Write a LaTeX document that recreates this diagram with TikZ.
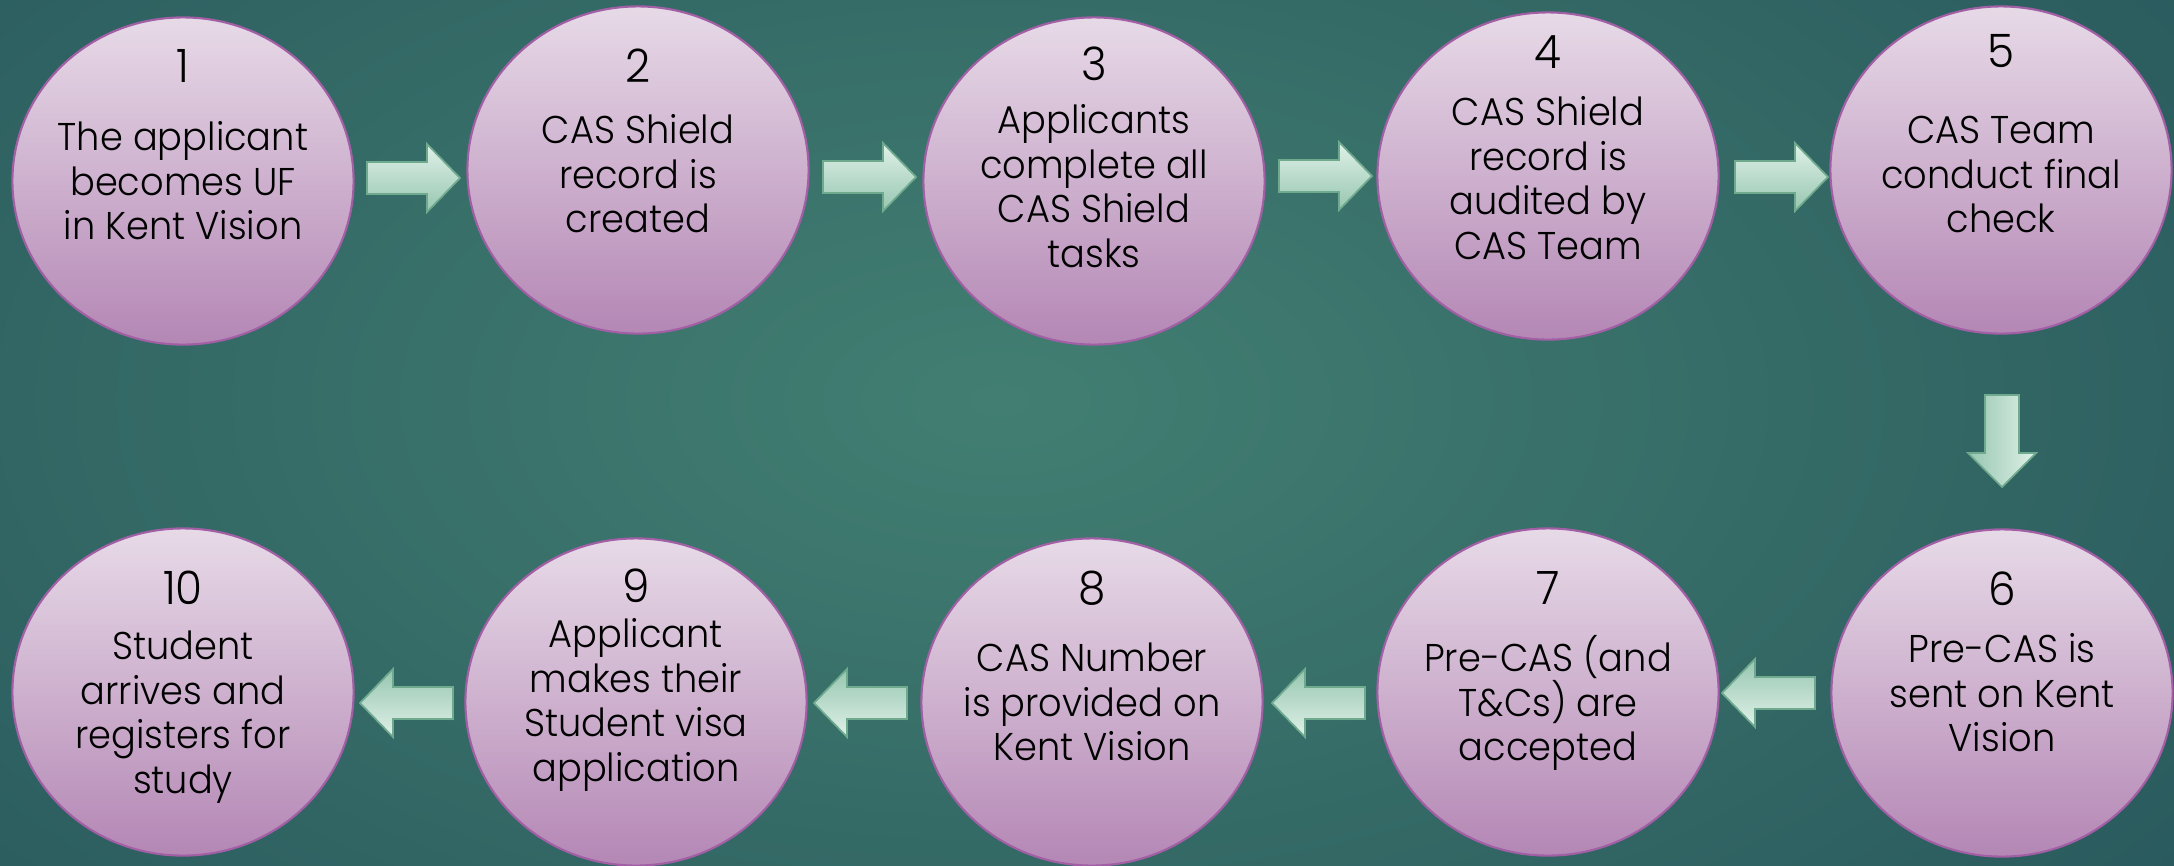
\documentclass[tikz,border=0pt]{standalone}
\usepackage{fontspec}
\IfFontExistsTF{Poppins Light}
  {\setmainfont{Poppins Light}[FakeStretch=0.95]}
  {\setmainfont{Poppins}[FakeStretch=0.95]}
\usetikzlibrary{shapes.geometric}
\definecolor{bgin}{RGB}{66,127,114}
\definecolor{bgout}{RGB}{26,66,80}
\definecolor{ctop}{RGB}{231,218,231}
\definecolor{cbot}{RGB}{180,135,181}
\definecolor{cline}{RGB}{163,95,165}
\definecolor{alight}{RGB}{224,241,233}
\definecolor{adark}{RGB}{150,198,176}
\definecolor{aline}{RGB}{112,170,142}
\tikzset{
  stepcircle/.style={ellipse, draw=cline, line width=0.6pt, top color=ctop, bottom color=cbot,
    minimum width=3.41cm, minimum height=3.27cm, inner sep=0pt},
  stepnum/.style={anchor=base, font=\fontsize{13.1pt}{15pt}\selectfont, text=black, inner sep=0pt},
  steptext/.style={anchor=north, align=center, font=\fontsize{11pt}{12.66pt}\selectfont, text=black, inner sep=0pt},
  blockarrow/.style={draw=aline, line width=0.5pt, line join=miter},
}
\newcommand\firstline{\rule{0pt}{0.4cm}}
\begin{document}
\begin{tikzpicture}[x=0.01cm,y=-0.01cm]
\useasboundingbox (0,0) rectangle (2174,866);
\begin{scope}
  \clip (0,0) rectangle (2174,866);
  \fill[bgout] (0,0) rectangle (2174,866);
  \shade[inner color=bgin, outer color=bgout] (1000,400) ellipse (24cm and 13cm);
\end{scope}

% circles
\node[stepcircle] (c1) at (183,181) {};
\node[stepcircle] (c2) at (638,170) {};
\node[stepcircle] (c3) at (1094,181) {};
\node[stepcircle] (c4) at (1548,176) {};
\node[stepcircle] (c5) at (2001,170) {};
\node[stepcircle] (c6) at (2002,693) {};
\node[stepcircle] (c7) at (1548,692) {};
\node[stepcircle] (c8) at (1092,702) {};
\node[stepcircle] (c9) at (636,702) {};
\node[stepcircle] (c10) at (183,692) {};

% numbers
\node[stepnum] (n1) at (183,82) {1};
\node[stepnum] (n2) at (638,82) {2};
\node[stepnum] (n3) at (1094,80) {3};
\node[stepnum] (n4) at (1548,68) {4};
\node[stepnum] (n5) at (2001,67) {5};
\node[stepnum] (n6) at (2002,605) {6};
\node[stepnum] (n7) at (1548,604) {7};
\node[stepnum] (n8) at (1092,604) {8};
\node[stepnum] (n9) at (636,602) {9};
\node[stepnum] (n10) at (183,604) {10};

% texts
\node[steptext] (t1) at (183,110) {\firstline The applicant\\becomes UF\\in Kent Vision};
\node[steptext] (t2) at (638,103) {\firstline CAS Shield\\record is\\created};
\node[steptext] (t3) at (1094,93) {\firstline Applicants\\complete all\\CAS Shield\\tasks};
\node[steptext] (t4) at (1548,85) {\firstline CAS Shield\\record is\\audited by\\CAS Team};
\node[steptext] (t5) at (2001,103) {\firstline CAS Team\\conduct final\\check};
\node[steptext] (t6) at (2002,622) {\firstline Pre-CAS is\\sent on Kent\\Vision};
\node[steptext] (t7) at (1548,631) {\firstline Pre-CAS (and\\T\&Cs) are\\accepted};
\node[steptext] (t8) at (1092,631) {\firstline CAS Number\\is provided on\\Kent Vision};
\node[steptext] (t9) at (636,607) {\firstline Applicant\\makes their\\Student visa\\application};
\node[steptext] (t10) at (183,619) {\firstline Student\\arrives and\\registers for\\study};

% right arrows
\foreach \ax/\ay in {367/178, 823/177, 1279/176, 1735/177}{
  \path[blockarrow, top color=alight, bottom color=adark, shift={(\ax,\ay)}]
    (0,-16) -- (60,-16) -- (60,-34) -- (93,0) -- (60,34) -- (60,16) -- (0,16) -- cycle;
}
% down arrow
\path[blockarrow, left color=adark, right color=alight, shift={(2002,395)}]
  (-17,0) -- (-17,58) -- (-34,58) -- (0,92) -- (34,58) -- (17,58) -- (17,0) -- cycle;
% left arrows
\foreach \ax/\ay in {1815/693, 1365/703, 907/703, 453/703}{
  \path[blockarrow, top color=adark, bottom color=alight, shift={(\ax,\ay)}]
    (0,-16) -- (-60,-16) -- (-60,-34) -- (-93,0) -- (-60,34) -- (-60,16) -- (0,16) -- cycle;
}
\end{tikzpicture}
\end{document}
